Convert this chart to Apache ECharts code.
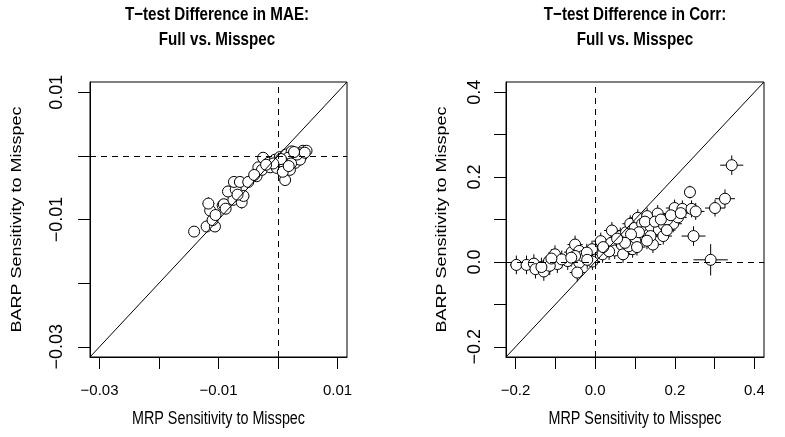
<!DOCTYPE html>
<html>
<head>
<meta charset="utf-8">
<script src="https://cdn.jsdelivr.net/npm/echarts@6/dist/echarts.min.js"></script>
<style>html,body{margin:0;padding:0;background:#fff;}#c{width:785px;height:437px;}</style>
</head>
<body>
<div id="c"></div>
<script>
// ---- Left panel: T-test difference in MAE ----
const mrpL = [-0.0141,-0.0120,-0.0106,-0.0110,-0.0114,-0.0117,-0.0093,-0.0091,-0.0075,-0.0084,-0.0071,-0.0061,-0.0058,-0.0074,-0.0064,-0.0050,-0.0036,-0.0033,-0.0027,-0.0025,-0.0016,-0.0005,-0.0013,0.0003,0.0013,0.0012,0.0015,0.0023,0.0034,0.0042,0.0048,0.0029,0.0003,-0.0002,0.0020,0.0038,0.0026,0.0006,0.0017,0.0030,0.0010,0.0040,0.0020,0.0037,0.0005,0.0022,0.0032,0.0045,0.0008,0.0018,-0.0008,0.0027,-0.0020,-0.0040,-0.0068,-0.0088,-0.0105];
const barpL = [-0.0119,-0.0111,-0.0111,-0.0101,-0.0086,-0.0075,-0.0078,-0.0076,-0.0069,-0.0056,-0.0053,-0.0073,-0.0063,-0.0041,-0.0041,-0.0041,-0.0032,-0.0018,-0.0022,-0.0003,-0.0011,-0.0006,-0.0018,-0.0002,0.0002,-0.0038,-0.0019,0.0007,-0.0002,0.0008,0.0008,-0.0011,-0.0017,-0.0019,-0.0006,0.0004,-0.0001,-0.0009,-0.0003,0.0003,-0.0011,0.0000,-0.0022,-0.0006,-0.0005,-0.0012,0.0002,0.0005,-0.0025,-0.0016,-0.0012,0.0006,-0.0014,-0.0030,-0.0061,-0.0083,-0.0093];
const xErrL = [0.0008,0.0008,0.0007,0.0008,0.0009,0.0010,0.0008,0.0007,0.0008,0.0008,0.0007,0.0009,0.0008,0.0007,0.0007,0.0008,0.0007,0.0007,0.0008,0.0007,0.0007,0.0006,0.0007,0.0006,0.0007,0.0008,0.0007,0.0007,0.0007,0.0007,0.0007,0.0007,0.0006,0.0006,0.0006,0.0007,0.0006,0.0006,0.0006,0.0006,0.0006,0.0007,0.0007,0.0006,0.0006,0.0006,0.0006,0.0007,0.0007,0.0006,0.0006,0.0006,0.0007,0.0007,0.0008,0.0008,0.0008];
const yErrL = [0.0008,0.0009,0.0008,0.0008,0.0010,0.0010,0.0009,0.0008,0.0009,0.0009,0.0008,0.0010,0.0009,0.0008,0.0008,0.0008,0.0008,0.0007,0.0008,0.0007,0.0007,0.0007,0.0008,0.0007,0.0007,0.0009,0.0008,0.0007,0.0007,0.0007,0.0007,0.0008,0.0007,0.0007,0.0007,0.0007,0.0007,0.0007,0.0007,0.0007,0.0007,0.0007,0.0008,0.0007,0.0007,0.0007,0.0007,0.0007,0.0008,0.0007,0.0007,0.0007,0.0007,0.0008,0.0009,0.0009,0.0009];
const ticksL = [-0.03,-0.02,-0.01,0,0.01];
const labelsL = [-0.03,-0.01,0.01];

// ---- Right panel: T-test difference in Corr ----
const mrpR = [-0.198,-0.1725,-0.154,-0.150,-0.129,-0.116,-0.101,-0.095,-0.069,-0.059,-0.0505,-0.040,-0.040,-0.045,-0.031,-0.008,-0.007,0.014,0.0185,0.028,0.042,0.040,0.049,0.063,0.067,0.070,0.0775,0.088,0.093,0.094,0.099,0.101,0.107,0.118,0.122,0.1305,0.135,0.139,0.145,0.157,0.160,0.1725,0.171,0.196,0.1995,0.208,0.219,0.238,0.242,0.2525,0.247,0.301,0.326,0.343,0.290,0.084,0.139,0.181,-0.084,-0.114,-0.0505,-0.021,0.110,0.125,0.150,0.165,0.180,0.090,0.075,0.055,0.035,0.020,-0.020,-0.060,0.105,0.130,0.190,0.215,-0.135,-0.110];
const barpR = [-0.007,-0.007,-0.004,-0.017,-0.0225,0.002,0.018,-0.005,0.002,0.023,0.041,0.026,-0.0015,-0.025,0.014,0.030,0.001,0.049,0.018,0.034,0.074,0.045,0.027,0.061,0.040,0.018,0.070,0.090,0.053,0.030,0.080,0.049,0.104,0.090,0.072,0.108,0.065,0.084,0.041,0.114,0.076,0.087,0.061,0.090,0.127,0.105,0.125,0.1645,0.125,0.119,0.061,0.127,0.149,0.228,0.005,0.037,0.061,0.100,0.006,-0.009,0.014,0.022,0.070,0.095,0.095,0.100,0.075,0.065,0.045,0.055,0.025,0.035,0.005,0.010,0.035,0.050,0.110,0.115,-0.012,0.008];
const xErrR = [0.016,0.016,0.017,0.017,0.018,0.017,0.018,0.018,0.018,0.019,0.019,0.019,0.019,0.019,0.019,0.019,0.019,0.020,0.020,0.020,0.020,0.020,0.020,0.020,0.020,0.020,0.020,0.020,0.021,0.021,0.021,0.021,0.021,0.021,0.021,0.021,0.021,0.021,0.021,0.022,0.022,0.022,0.022,0.022,0.022,0.022,0.022,0.012,0.022,0.022,0.030,0.025,0.025,0.029,0.043,0.020,0.021,0.022,0.018,0.018,0.019,0.019,0.021,0.021,0.021,0.022,0.022,0.020,0.020,0.020,0.020,0.020,0.019,0.018,0.021,0.021,0.022,0.022,0.018,0.018];
const yErrR = [0.022,0.022,0.022,0.022,0.022,0.021,0.021,0.021,0.021,0.021,0.021,0.021,0.021,0.021,0.021,0.020,0.020,0.020,0.020,0.020,0.020,0.020,0.020,0.020,0.020,0.020,0.020,0.020,0.020,0.020,0.020,0.020,0.020,0.020,0.020,0.020,0.020,0.020,0.020,0.020,0.020,0.020,0.020,0.020,0.020,0.020,0.020,0.015,0.020,0.020,0.023,0.020,0.022,0.023,0.037,0.020,0.020,0.020,0.021,0.022,0.021,0.021,0.020,0.020,0.020,0.020,0.020,0.020,0.020,0.020,0.020,0.020,0.021,0.021,0.020,0.020,0.020,0.020,0.022,0.022];
const ticksR = [-0.2,-0.1,0,0.1,0.2,0.3,0.4];
const labelsR = [-0.2,0,0.2,0.4];

const limL = [-0.0316, 0.0116];
const limR = [-0.224, 0.424];

const FONT = "'Liberation Sans',Arial,Helvetica,sans-serif";
const FS_XTICK = 15;
const FS_YTICK = 18;
const SQ = 0.82; // horizontal squeeze of the original picture
const MINUS = '\u2212';

function fmt(dec) {
  return function (v) {
    const s = Math.abs(v).toFixed(dec);
    return (v < -1e-12 ? MINUS : '') + s;
  };
}

function mkX(grid, lim, ticks, labels, dec) {
  return {
    type: 'value', gridIndex: grid, min: lim[0], max: lim[1],
    axisLine: { show: true, onZero: false, lineStyle: { color: '#000', width: 1 } },
    splitLine: { show: false },
    axisTick: { show: true, length: 12, customValues: ticks, lineStyle: { color: '#000', width: 1 } },
    axisLabel: { customValues: labels, formatter: fmt(dec), margin: 26, color: '#000', fontSize: FS_XTICK, fontFamily: FONT }
  };
}
function mkY(grid, lim, ticks, labels, dec, lm) {
  return {
    type: 'value', gridIndex: grid, min: lim[0], max: lim[1],
    axisLine: { show: true, onZero: false, lineStyle: { color: '#000', width: 1 } },
    splitLine: { show: false },
    axisTick: { show: true, length: 12, customValues: ticks, lineStyle: { color: '#000', width: 1 } },
    axisLabel: { customValues: labels, formatter: fmt(dec), margin: lm, rotate: 90, color: '#000', fontSize: FS_YTICK, fontFamily: FONT }
  };
}

function errBars(grid, xs, ys, ex, ey) {
  return {
    type: 'custom', xAxisIndex: grid, yAxisIndex: grid, z: 2, silent: true,
    data: xs.map((x, i) => [x, ys[i], ex[i], ey[i]]),
    encode: { x: 0, y: 1 },
    renderItem: function (params, api) {
      const x = api.value(0), y = api.value(1), ex = api.value(2), ey = api.value(3);
      const a = api.coord([x - ex, y]), b = api.coord([x + ex, y]);
      const c = api.coord([x, y - ey]), d = api.coord([x, y + ey]);
      const st = { stroke: '#000', lineWidth: 1 };
      return { type: 'group', children: [
        { type: 'line', shape: { x1: a[0], y1: a[1], x2: b[0], y2: b[1] }, style: st },
        { type: 'line', shape: { x1: c[0], y1: c[1], x2: d[0], y2: d[1] }, style: st }
      ] };
    }
  };
}

function points(grid, xs, ys, lim) {
  return {
    type: 'scatter', xAxisIndex: grid, yAxisIndex: grid, z: 3,
    data: xs.map((x, i) => [x, ys[i]]),
    symbol: 'circle', symbolSize: 11,
    itemStyle: { color: '#fff', borderColor: '#000', borderWidth: 1, opacity: 1 },
    markLine: {
      silent: true, symbol: 'none', animation: false,
      label: { show: false },
      lineStyle: { color: '#000', width: 1, type: [6, 5] },
      data: [
        { xAxis: 0 }, { yAxis: 0 },
        [ { coord: [lim[0], lim[0]], lineStyle: { type: 'solid' } }, { coord: [lim[1], lim[1]] } ]
      ]
    }
  };
}

// horizontal text: squeezed along x; vertical text: squeezed across glyph height (which maps to x)
function htxt(t, x, y, bold, fs) {
  return {
    type: 'text', x: x, y: y, scaleX: SQ, silent: true,
    style: { text: t, align: 'center', verticalAlign: 'middle', fill: '#000',
             font: (bold ? 'bold ' : '') + fs + 'px ' + FONT }
  };
}
function vtxt(t, x, y, fs) {
  return {
    type: 'text', x: x, y: y, rotation: Math.PI / 2, scaleY: SQ, silent: true,
    style: { text: t, align: 'center', verticalAlign: 'middle', fill: '#000',
             font: fs + 'px ' + FONT }
  };
}

const chart = echarts.init(document.getElementById('c'), null, { renderer: 'canvas' });
chart.setOption({
  animation: false,
  backgroundColor: '#fff',
  grid: [
    { left: 90, top: 82, width: 257, height: 275, show: true, borderColor: '#000', borderWidth: 1, backgroundColor: 'transparent' },
    { left: 506, top: 82, width: 258, height: 275, show: true, borderColor: '#000', borderWidth: 1, backgroundColor: 'transparent' }
  ],
  xAxis: [ mkX(0, limL, ticksL, labelsL, 2), mkX(1, limR, ticksR, labelsR, 1) ],
  yAxis: [ mkY(0, limL, ticksL, labelsL, 2, 24), mkY(1, limR, ticksR, labelsR, 1, 22) ],
  graphic: [
    htxt('T\u2212test Difference in MAE:', 217, 15, true, 18.5),
    htxt('Full vs. Misspec', 217, 40, true, 18.5),
    htxt('T\u2212test Difference in Corr:', 635, 15, true, 18.5),
    htxt('Full vs. Misspec', 635, 40, true, 18.5),
    htxt('MRP Sensitivity to Misspec', 218.5, 419, false, 17.5),
    htxt('MRP Sensitivity to Misspec', 635, 419, false, 17.5),
    vtxt('BARP Sensitivity to Misspec', 17, 219.5, 18),
    vtxt('BARP Sensitivity to Misspec', 442, 219.5, 18)
  ],
  series: [
    errBars(0, mrpL, barpL, xErrL, yErrL),
    points(0, mrpL, barpL, limL),
    errBars(1, mrpR, barpR, xErrR, yErrR),
    points(1, mrpR, barpR, limR)
  ]
});
</script>
</body>
</html>
